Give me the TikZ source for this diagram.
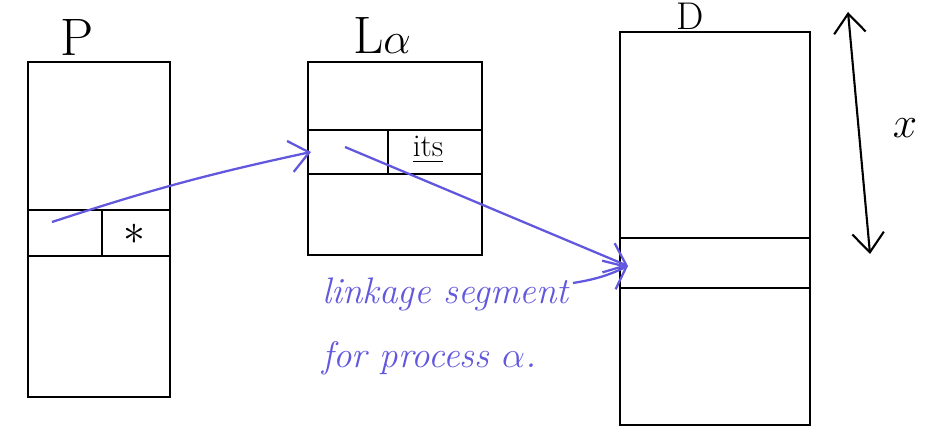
\documentclass[tikz,border=0pt]{standalone}
\usepackage{tikz}
\usetikzlibrary{arrows.meta}
\usepackage{amsmath,amssymb}

\definecolor{inkblue}{RGB}{98,88,222}

\tikzset{
  segbox/.style={draw, line width=1.2pt, rectangle, inner sep=0pt},
  rowline/.style={line width=1.1pt},
  link/.style={inkblue, line width=1.3pt, -{Straight Barb[length=11pt,width=18pt,line width=1.3pt]}},
  boxlabel/.style={font=\fontsize{30}{32}\selectfont},
}

\begin{document}
\begin{tikzpicture}[x=0.02cm,y=-0.02cm]
    \useasboundingbox (0,0) rectangle (932,435);

    % Draw segment P
    \node[segbox, minimum width=2.84cm, minimum height=6.7cm] (P) at (99,229.5) {};
    \draw[rowline] (28,210) -- (170,210);
    \draw[rowline] (28,256) -- (170,256);
    \draw[rowline] (102,210) -- (102,256);
    \node[font=\fontsize{24}{26}\selectfont] (pstar) at (134,234) {$*$};
    \node[boxlabel] (plabel) at (77,38) {P};

    % Draw linkage segment L alpha
    \node[segbox, minimum width=3.48cm, minimum height=3.86cm] (L) at (395,158.5) {};
    \draw[rowline] (308,130) -- (482,130);
    \draw[rowline] (308,174) -- (482,174);
    \draw[rowline] (388,130) -- (388,174);
    \node[font=\fontsize{18}{20}\selectfont] (its) at (428,150) {\underline{its}};
    \node[boxlabel] (llabel) at (382,36) {L$\alpha$};

    % Draw segment D
    \node[segbox, minimum width=3.8cm, minimum height=7.86cm] (D) at (715,228.5) {};
    \draw[rowline] (620,238) -- (810,238);
    \draw[rowline] (620,288) -- (810,288);
    \node[font=\fontsize{22}{24}\selectfont, anchor=south, inner sep=1.5pt] (dlabel) at (690,32) {D};

    % Length of D
    \coordinate (xtop) at (848,12);
    \coordinate (xbot) at (870,254);
    \draw[line width=1.2pt, {Straight Barb[length=11pt,width=18pt,line width=1.2pt]}-{Straight Barb[length=11pt,width=18pt,line width=1.2pt]}] (xtop) -- (xbot);
    \node[boxlabel] (xlabel) at (905,128) {$x$};

    % Links in blue
    \coordinate (pentry) at (52,222);
    \coordinate (lin) at (311,152);
    \coordinate (lentry) at (345,147);
    \coordinate (din) at (628,266);
    \draw[link] (pentry) to[bend left=3] (lin);
    \draw[link] (lentry) -- (din);

    \node[inkblue, align=left, anchor=north west, font=\itshape\fontsize{21}{36}\selectfont] (note) at (316,272)
        {linkage segment\\for process $\alpha$.};
    \coordinate (noteend) at (573,283);
    \draw[link] (noteend) to[bend right=8] (din);
\end{tikzpicture}
\end{document}
